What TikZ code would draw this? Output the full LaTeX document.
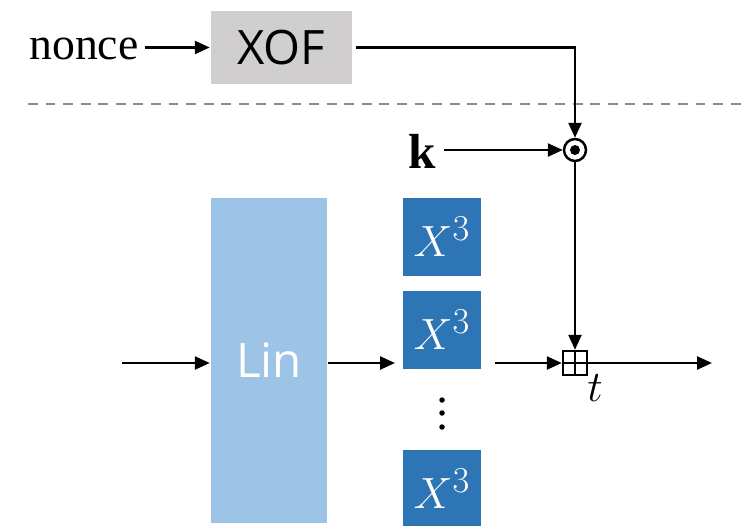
\documentclass[tikz,border=0pt]{standalone}
\usepackage{fontspec}
\setmainfont{Liberation Serif}
\newfontfamily\boxfont{Open Sans}
\usetikzlibrary{arrows.meta}

\definecolor{xofgray}{HTML}{D0CECE}
\definecolor{linblue}{HTML}{9DC3E6}
\definecolor{powblue}{HTML}{2E75B6}
\definecolor{dashgray}{HTML}{8C8C8C}

\tikzset{
  arr/.style={-{Triangle[length=0.3cm,width=0.26cm]}},
  blk/.style={inner sep=0pt, text=white, font=\fontsize{29}{29}\selectfont},
  powbox/.style={blk, fill=powblue, minimum width=1.56cm, minimum height=1.56cm},
}

\begin{document}
\begin{tikzpicture}[x=0.02cm, y=-0.02cm, line width=1.4pt]
  \useasboundingbox (0,0) rectangle (747,525);

  % public part: nonce through the XOF
  \node[font=\fontsize{26}{26}\selectfont, inner sep=0pt] (nonce) at (84,49) {nonce};
  \node[fill=xofgray, inner sep=0pt, minimum width=2.82cm, minimum height=1.46cm,
        font=\boxfont\fontsize{27}{27}\selectfont] (xof) at (281.5,47.5) {XOF};
  \draw[arr] (nonce.east |- xof) ++(5,0) coordinate (n0) -- (xof.west);

  \draw[dashgray, line width=1.3pt, dash pattern=on 5.6pt off 4.4pt] (28,104) -- (742,104);

  % key times mask
  \node[font=\fontsize{28}{28}\selectfont, inner sep=0pt] (k) at (422,151) {$\mathbf{k}$};
  \node[circle, draw, inner sep=0pt, minimum size=0.44cm] (dot) at (575,150) {};
  \fill (dot) circle (0.1cm);
  \draw[arr] (xof.east) ++(3,0) -- (575,47.5) -- (dot.north);
  \draw[arr] (k.east |- dot) ++(7,0) -- (dot.west);

  % keyed part
  \node[fill=linblue, inner sep=0pt, minimum width=2.32cm, minimum height=6.5cm,
        text=white, font=\boxfont\fontsize{27}{27}\selectfont] (lin) at (269,360.5) {Lin};
  \node[powbox] (p1) at (442,237) {$X^3$};
  \node[powbox] (p2) at (442,330) {$X^3$};
  \node[powbox] (p3) at (442,488.5) {$X^3$};
  \foreach \yy in {400,413,427}
    \fill (442,\yy) circle (0.055cm);

  \node[draw, inner sep=0pt, minimum size=0.48cm] (add) at (575,363) {};
  \draw[line width=1.2pt] (add.north) -- (add.south) (add.west) -- (add.east);
  \node[font=\fontsize{25}{25}\selectfont] (t) at (595,388) {$t$};

  \coordinate (in) at (122,363);
  \coordinate (cin) at (395,363);
  \coordinate (cout) at (495,363);
  \coordinate (out) at (712,363);
  \draw[arr] (in) -- (lin.west |- in);
  \draw[arr] (lin.east |- cin) -- (cin);
  \draw[arr] (cout) -- (add.west);
  \draw[arr] (add.east) -- (out);
  \draw[arr] (dot.south) -- (add.north);
\end{tikzpicture}
\end{document}
